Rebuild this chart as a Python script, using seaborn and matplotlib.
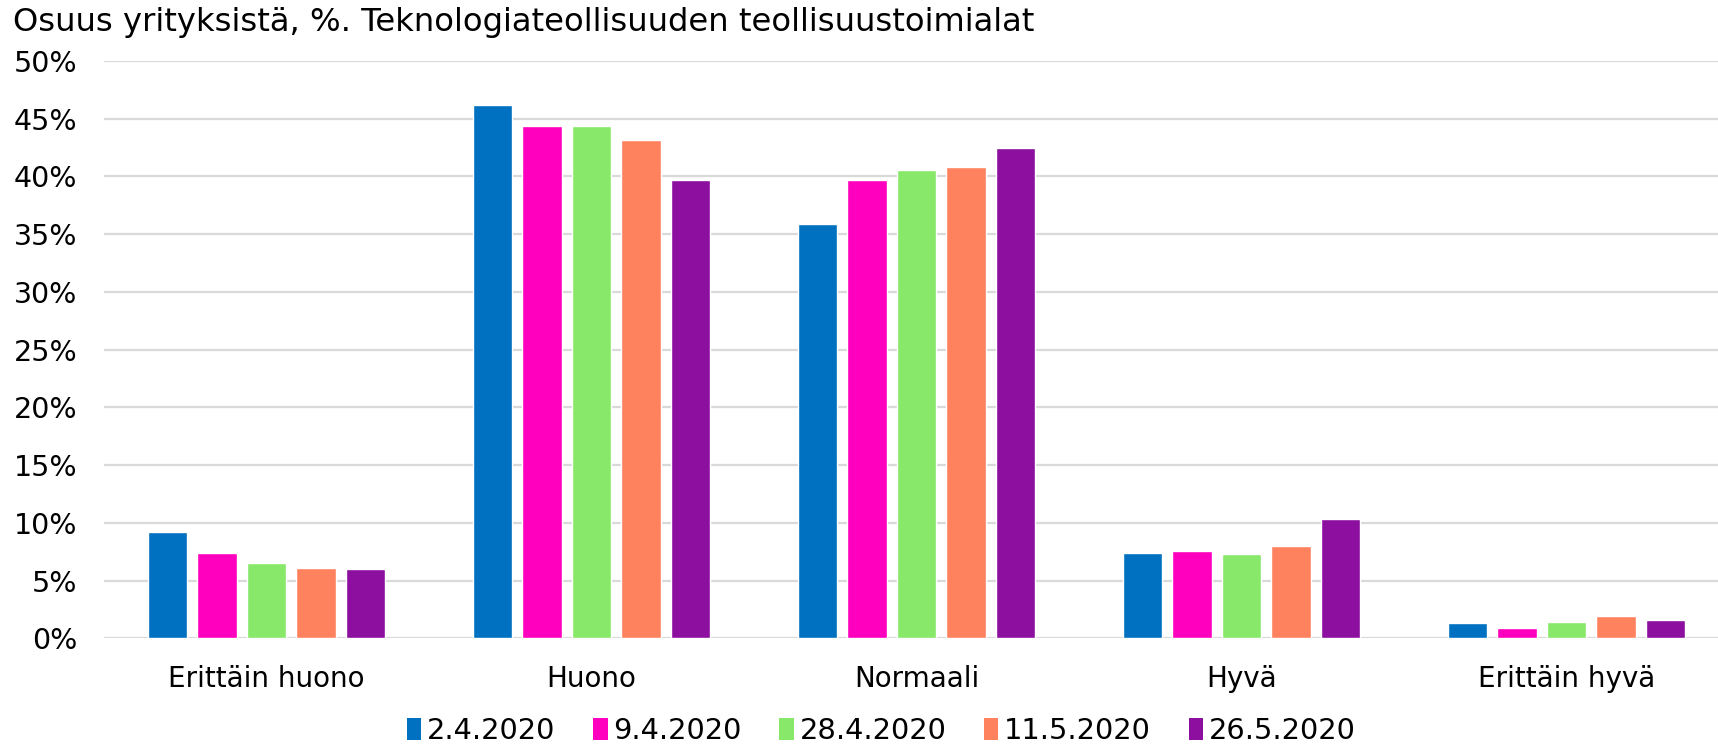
import pandas as pd
import numpy as np
import matplotlib
matplotlib.use("Agg")
import matplotlib.pyplot as plt
import seaborn as sns
from matplotlib.ticker import FuncFormatter
from matplotlib.patches import Patch

# Data (share of companies, %)
categories = ['Erittäin huono', 'Huono', 'Normaali', 'Hyvä', 'Erittäin hyvä']
dates = ['2.4.2020', '9.4.2020', '28.4.2020', '11.5.2020', '26.5.2020']
vals_0204 = [9.2, 46.2, 35.9, 7.4, 1.3]
vals_0904 = [7.4, 44.4, 39.7, 7.6, 0.9]
vals_2804 = [6.5, 44.4, 40.6, 7.3, 1.4]
vals_1105 = [6.1, 43.2, 40.8, 8.0, 1.9]
vals_2605 = [6.0, 39.7, 42.5, 10.3, 1.6]
colors = ['#0070C0', '#FF00BE', '#88E86A', '#FF825F', '#8C0FA0']

series = [vals_0204, vals_0904, vals_2804, vals_1105, vals_2605]
rows = []
for d, vals in zip(dates, series):
    for c, v in zip(categories, vals):
        rows.append({'Luokka': c, 'Päivä': d, 'Osuus': v})
df = pd.DataFrame(rows)

sns.set_style('white')
plt.rcParams['font.family'] = ['DejaVu Sans']
plt.rcParams['text.color'] = 'black'
plt.rcParams['xtick.color'] = 'black'
plt.rcParams['ytick.color'] = 'black'

W, H = 1718, 745
fig = plt.figure(figsize=(W / 100, H / 100), dpi=100)
left, right = 104, 1718
top, bottom = 61, 638.3
ax = fig.add_axes([left / W, 1 - bottom / H, (right - left) / W, (bottom - top) / H])

sns.barplot(data=df, x='Luokka', y='Osuus', hue='Päivä', order=categories,
            hue_order=dates, palette=colors, width=0.76, gap=0.2,
            saturation=1, ax=ax, legend=False, errorbar=None)

# category width in px is about 325, so the plot is cut at the right edge
ax.set_xlim(-0.5, -0.5 + (right - left) / 325)
ax.set_ylim(0, 50)
ax.set_yticks(np.arange(0, 51, 5))
ax.yaxis.set_major_formatter(FuncFormatter(lambda v, p: f'{v:.0f}%'))
ax.grid(axis='y', color='#D9D9D9', linewidth=1.6)
ax.set_axisbelow(True)
for s in ax.spines.values():
    s.set_visible(False)
ax.set_xlabel('')
ax.set_ylabel('')
ax.tick_params(axis='y', length=0, pad=19, labelsize=20.5)
ax.tick_params(axis='x', length=0, pad=19, labelsize=20)

fig.text(13 / W, 1 - 23 / H, 'Osuus yrityksistä, %. Teknologiateollisuuden teollisuustoimialat',
         fontsize=23.2, va='center', ha='left')

handles = [Patch(facecolor=c, edgecolor='none') for c in colors]
fig.legend(handles, dates, loc='center', bbox_to_anchor=(0.513, 1 - 731 / H), ncol=5,
           frameon=False, fontsize=20.8, handlelength=0.5, handleheight=0.75,
           handletextpad=0.2, columnspacing=1.3)

fig.savefig('out.png', dpi=100)
